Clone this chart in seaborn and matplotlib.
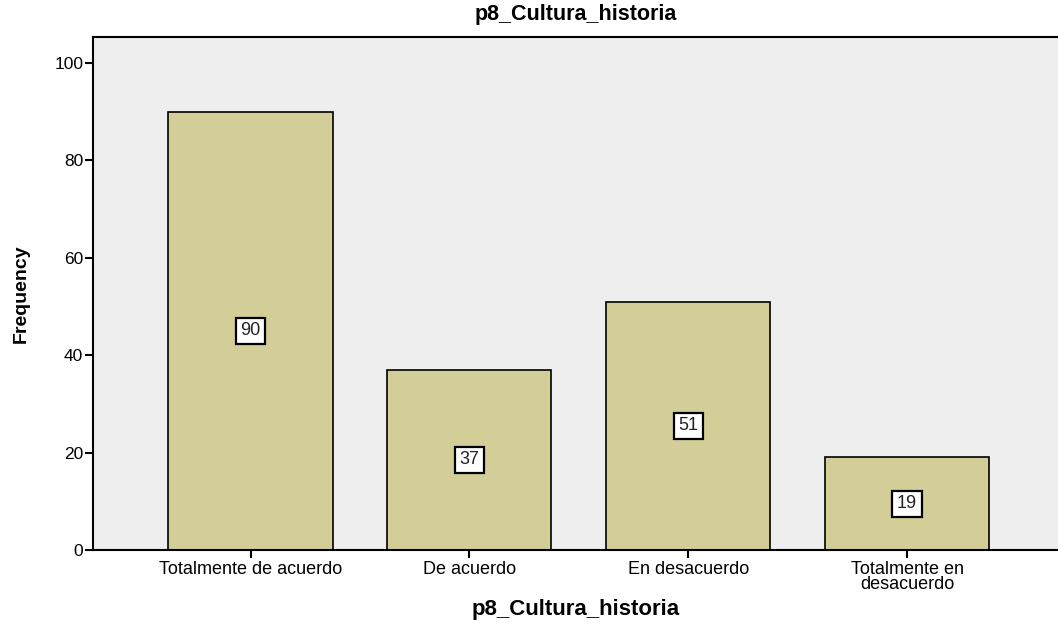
import pandas as pd
import matplotlib
matplotlib.use("Agg")
import matplotlib.pyplot as plt
import seaborn as sns

# datos del gráfico
categorias = ["Totalmente de acuerdo", "De acuerdo", "En desacuerdo", "Totalmente en\ndesacuerdo"]
frecuencias = [90, 37, 51, 19]
ticks_y = [0, 20, 40, 60, 80, 100]

sns.set_theme(style="white", rc={"text.color": "black", "axes.labelcolor": "black",
                                 "xtick.color": "black", "ytick.color": "black"})
plt.rcParams['font.family'] = ['Liberation Sans', 'DejaVu Sans']

df = pd.DataFrame({"categoria": categorias, "frecuencia": frecuencias})

fig = plt.figure(figsize=(10.58, 6.25), dpi=100)
ax = fig.add_axes([0.0879, 0.12, 0.9121, 0.8208])
ax.set_facecolor("#eeeeee")

sns.barplot(data=df, x="categoria", y="frecuencia", color="#d3ce97",
            edgecolor="black", linewidth=1.2, width=0.75, saturation=1, ax=ax)

# etiquetas de valor en el centro de cada barra
for i, v in enumerate(frecuencias):
    ax.text(i, v / 2, str(v), ha="center", va="center", fontsize=13, color="#222222",
            bbox=dict(boxstyle="square,pad=0.25", facecolor="white", edgecolor="black", linewidth=1.6))

ax.set_xlim(-0.72, 3.69)
ax.set_ylim(0, 105.3)
ax.set_yticks(ticks_y)
ax.tick_params(axis="y", labelsize=12.5, length=6, width=1.5, direction="out", left=True, pad=1)
ax.tick_params(axis="x", labelsize=13, length=6, width=1.5, direction="out", bottom=True, pad=2)
for lbl in ax.get_xticklabels():
    lbl.set_linespacing(0.85)

for side in ["left", "bottom", "top"]:
    ax.spines[side].set_color("black")
    ax.spines[side].set_linewidth(1.5)
ax.spines["right"].set_visible(False)

ax.set_title("p8_Cultura_historia", fontsize=15.5, fontweight="bold", pad=12)
ax.set_xlabel("p8_Cultura_historia", fontsize=16, fontweight="bold", labelpad=4)
ax.set_ylabel("Frequency", fontsize=14, fontweight="bold", labelpad=18)

fig.savefig("out.png", dpi=100, facecolor="white")
